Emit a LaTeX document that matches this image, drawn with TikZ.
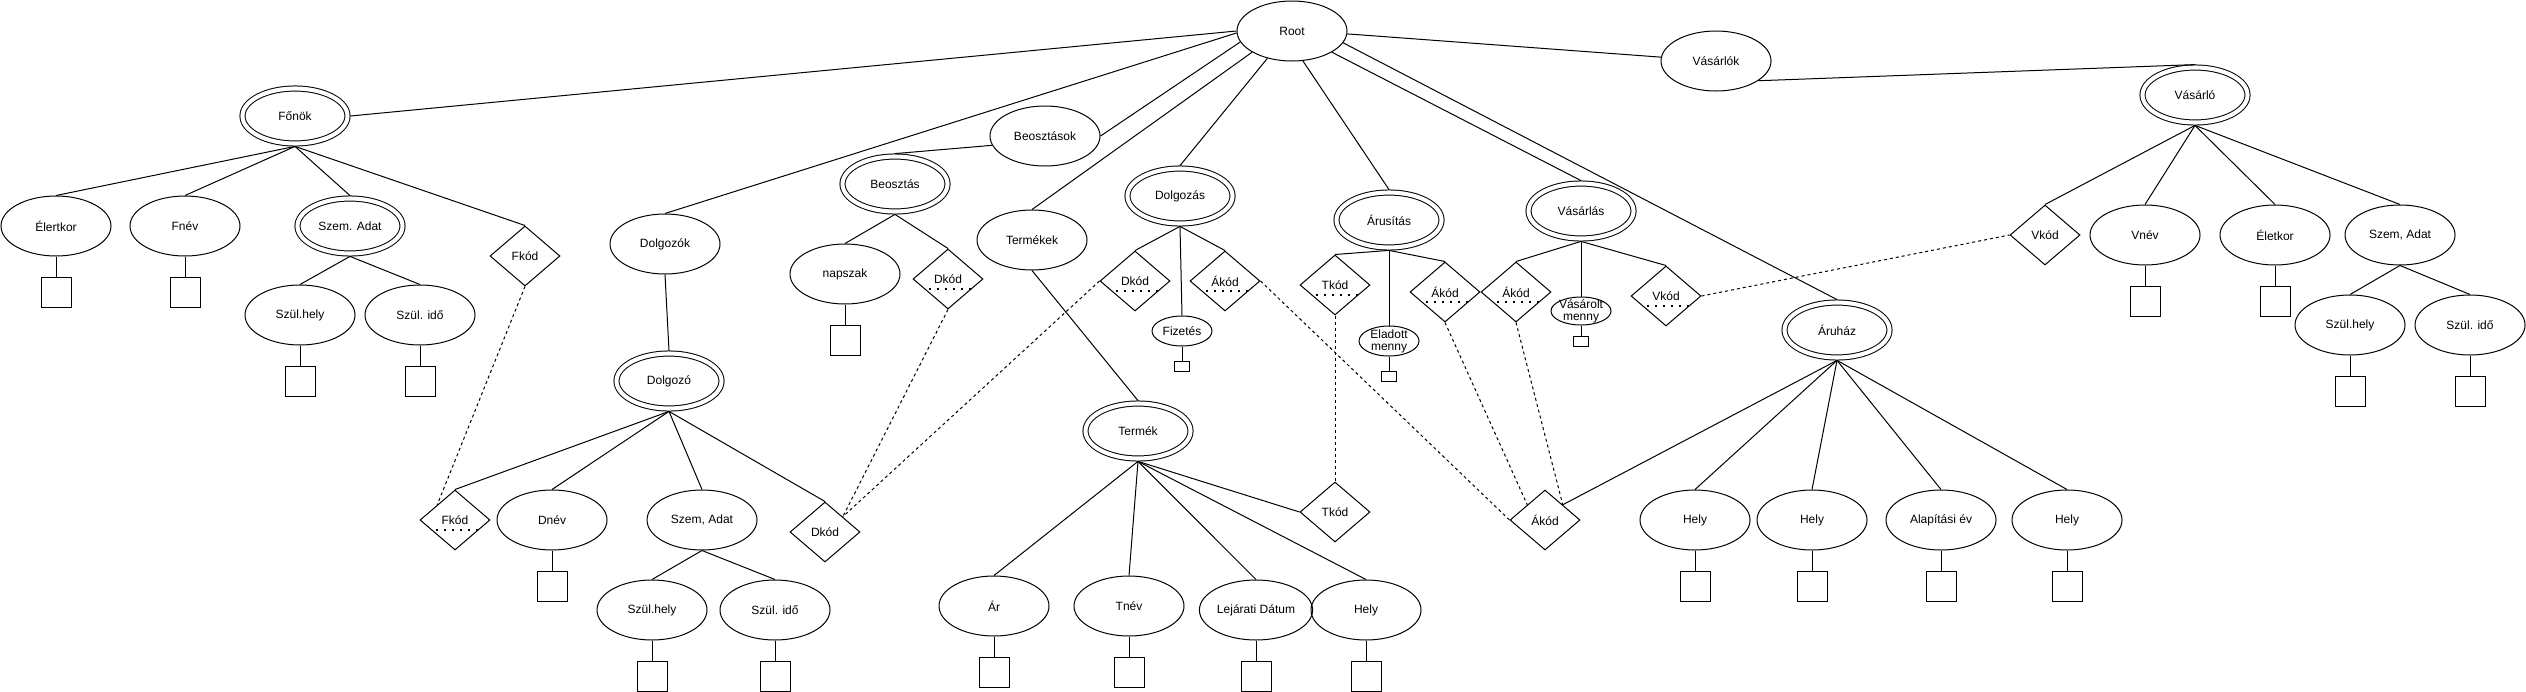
\documentclass[tikz,border=0pt]{standalone}
\usepackage{fontspec}
\setmainfont{Liberation Sans}
\usetikzlibrary{shapes.geometric, positioning}

\begin{document}
\begin{tikzpicture}[
  x=1pt, y=-1pt,
  line width=1pt,
  every node/.style={draw, font=\fontsize{12}{12}\selectfont, inner sep=1pt},
  attr/.style={ellipse, minimum width=110pt, minimum height=60pt},
  entity/.style={ellipse, double, double distance=4.1pt, outer sep=2.9pt, minimum width=105pt, minimum height=55pt},
  kod/.style={diamond, minimum width=70pt, minimum height=60pt},
  pkod/.style={kod, path picture={\draw[line width=2pt, dash pattern=on 2pt off 6pt]
      ([yshift=-10pt]path picture bounding box.west) -- ([yshift=-10pt]path picture bounding box.east);}},
  smallattr/.style={ellipse, minimum width=60pt, minimum height=30pt},
  dom/.style={rectangle, minimum width=30pt, minimum height=30pt},
  smalldom/.style={rectangle, minimum width=15pt, minimum height=10pt},
  dashlink/.style={dash pattern=on 3pt off 3pt},
  twoline/.style={label={[draw=none, align=center, inner sep=0pt]center:#1}}
]
\useasboundingbox (0,0) rectangle (2526,691);

% Root
\node[attr] (root) at (1292,31) {Root};

% Főnök
\node[entity] (fonok) at (295,116) {Főnök};
\node[attr] (elertkor) at (56,226) {Élertkor};
\node[attr] (fnev) at (185,226) {Fnév};
\node[entity] (szemF) at (350,226) {Szem. Adat};
\node[kod] (fkodF) at (525,256) {Fkód};
\node[attr] (szhelyF) at (300,315) {Szül.hely};
\node[attr] (szidoF) at (420,315) {Szül. idő};

% Dolgozók
\node[attr] (dolgozok) at (665,244) {Dolgozók};
\node[entity] (dolgozo) at (669,381) {Dolgozó};
\node[pkod] (fkodD) at (455,520) {Fkód};
\node[attr] (dnev) at (552,520) {Dnév};
\node[attr] (szemD) at (702,520) {Szem, Adat};
\node[kod] (dkodD) at (825,532) {Dkód};
\node[attr] (szhelyD) at (652,610) {Szül.hely};
\node[attr] (szidoD) at (775,610) {Szül. idő};

% Beosztások
\node[attr] (beosztasok) at (1045,136) {Beosztások};
\node[entity] (beosztas) at (895,184) {Beosztás};
\node[attr] (napszak) at (845,274) {napszak};
\node[pkod] (dkodB) at (948,279) {Dkód};

% Termékek
\node[attr] (termekek) at (1032,240) {Termékek};
\node[entity] (termek) at (1138,431) {Termék};
\node[attr] (ar) at (994,606) {Ár};
\node[attr] (tnev) at (1129,606) {Tnév};
\node[attr] (lejarat) at (1256,610) {Lejárati Dátum};
\node[attr] (helyT) at (1366,610) {Hely};
\node[kod] (tkodT) at (1335,512) {Tkód};

% Dolgozás
\node[entity] (dolgozas) at (1180,196) {Dolgozás};
\node[pkod] (dkodDg) at (1135,281) {Dkód};
\node[pkod] (akodDg) at (1225,281) {Ákód};
\node[smallattr] (fizetes) at (1182,331) {Fizetés};

% Árusítás
\node[entity] (arusitas) at (1389,220) {Árusítás};
\node[pkod] (tkodA) at (1335,285) {Tkód};
\node[smallattr, twoline={Eladott\\menny}] (eladott) at (1389,341) {};
\node[pkod] (akodA) at (1445,292) {Ákód};

% Vásárlás
\node[entity] (vasarlas) at (1581,211) {Vásárlás};
\node[pkod] (akodV) at (1516,292) {Ákód};
\node[smallattr, minimum height=28pt, twoline={Vásárolt\\menny}] (vasarolt) at (1581,311) {};
\node[pkod] (vkodV) at (1666,296) {Vkód};

% Áruház
\node[entity] (aruhaz) at (1837,330) {Áruház};
\node[kod] (akodL) at (1545,520) {Ákód};
\node[attr] (hely1) at (1695,520) {Hely};
\node[attr] (hely2) at (1812,520) {Hely};
\node[attr] (alapitas) at (1941,520) {Alapítási év};
\node[attr] (hely3) at (2067,520) {Hely};

% Vásárlók
\node[attr] (vasarlok) at (1716,61) {Vásárlók};
\node[entity] (vasarlo) at (2195,95) {Vásárló};
\node[kod] (vkodC) at (2045,235) {Vkód};
\node[attr] (vnev) at (2145,235) {Vnév};
\node[attr] (eletkor) at (2275,235) {Életkor};
\node[attr] (szemC) at (2400,235) {Szem, Adat};
\node[attr] (szhelyC) at (2350,325) {Szül.hely};
\node[attr] (szidoC) at (2470,325) {Szül. idő};

% Domain boxes
\foreach \a in {elertkor, fnev, szhelyF, szidoF, dnev, szhelyD, szidoD, napszak,
                ar, tnev, lejarat, helyT, hely1, hely2, alapitas, hely3,
                vnev, eletkor, szhelyC, szidoC} {
  \node[dom, below=20pt of \a] (\a-d) {};
  \draw (\a) -- (\a-d);
}
\node[smalldom, below=14pt of fizetes] (fizetes-d) {};
\node[smalldom, below=14pt of eladott] (eladott-d) {};
\node[smalldom, below=10pt of vasarolt] (vasarolt-d) {};
\foreach \a in {fizetes, eladott, vasarolt} \draw (\a) -- (\a-d);

% Edges from Root
\draw (root.west) -- (fonok.east);
\draw (root.182) -- (dolgozok.north);
\draw (root.192) -- (beosztasok.east);
\draw (root.208) -- (termekek.north);
\draw (root.228) -- (dolgozas.north);
\draw (root.290) -- (arusitas.north);
\draw (root.332) -- (vasarlas.north);
\draw (root.347) -- (aruhaz.north);
\draw (root.357) -- (vasarlok.176);
\draw (vasarlok.335) -- (vasarlo.north);

% Tree edges
\foreach \c in {elertkor, fnev, szemF, fkodF} \draw (fonok.south) -- (\c.north);
\foreach \c in {szhelyF, szidoF} \draw (szemF.south) -- (\c.north);
\draw (dolgozok.south) -- (dolgozo.north);
\foreach \c in {fkodD, dnev, szemD, dkodD} \draw (dolgozo.south) -- (\c.north);
\foreach \c in {szhelyD, szidoD} \draw (szemD.south) -- (\c.north);
\draw (beosztasok.190) -- (beosztas.north);
\foreach \c in {napszak, dkodB} \draw (beosztas.south) -- (\c.north);
\draw (termekek.south) -- (termek.north);
\foreach \c in {ar, tnev, lejarat, helyT} \draw (termek.south) -- (\c.north);
\draw (termek.south) -- (tkodT.west);
\foreach \c in {dkodDg, fizetes, akodDg} \draw (dolgozas.south) -- (\c.north);
\foreach \c in {tkodA, eladott, akodA} \draw (arusitas.south) -- (\c.north);
\foreach \c in {akodV, vasarolt, vkodV} \draw (vasarlas.south) -- (\c.north);
\foreach \c in {hely1, hely2, alapitas, hely3} \draw (aruhaz.south) -- (\c.north);
\draw (aruhaz.south) -- (akodL.north east);
\foreach \c in {vkodC, vnev, eletkor, szemC} \draw (vasarlo.south) -- (\c.north);
\foreach \c in {szhelyC, szidoC} \draw (szemC.south) -- (\c.north);

% Dashed links between keys
\draw[dashlink] (fkodF.south) -- (fkodD.north west);
\draw[dashlink] (dkodB.south) -- (dkodD.north east);
\draw[dashlink] (dkodDg.west) -- (dkodD.north east);
\draw[dashlink] (akodDg.east) -- (akodL.west);
\draw[dashlink] (tkodA.south) -- (tkodT.north);
\draw[dashlink] (akodA.south) -- (akodL.north west);
\draw[dashlink] (akodV.south) -- (akodL.north east);
\draw[dashlink] (vkodV.east) -- (vkodC.west);

\end{tikzpicture}
\end{document}
